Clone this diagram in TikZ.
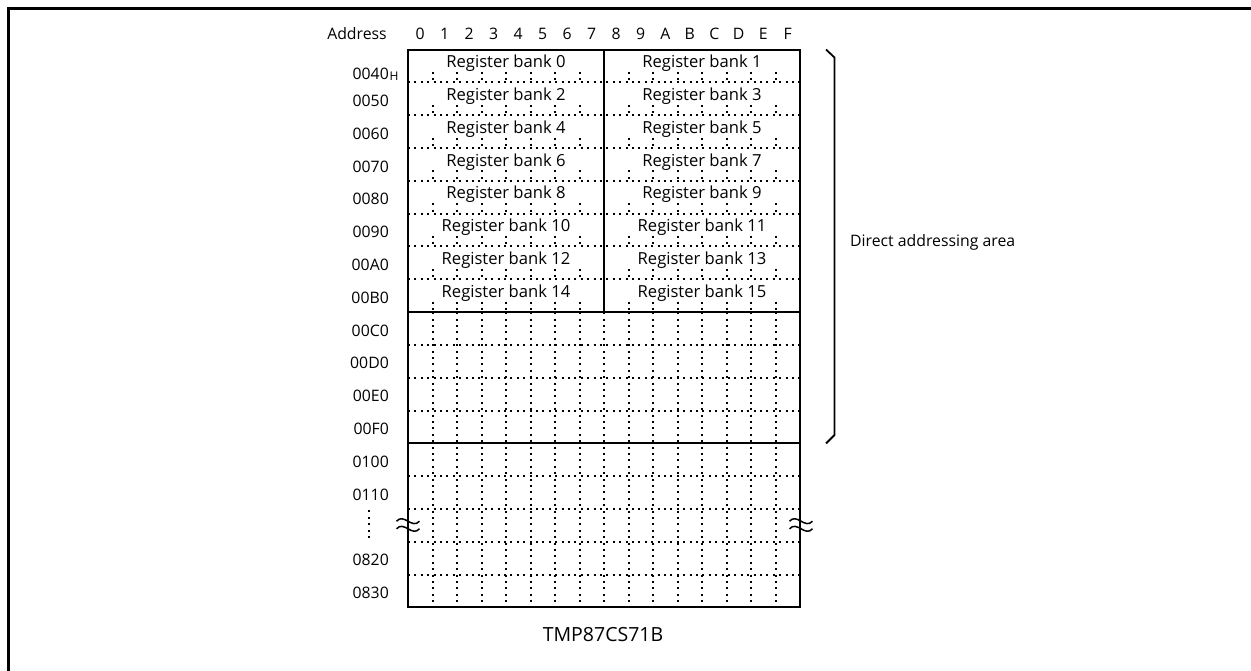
\documentclass[tikz,border=0pt]{standalone}
\usepackage{fontspec}
\setmainfont{Open Sans}
\usetikzlibrary{positioning}

\begin{document}
\begin{tikzpicture}[x=1pt, y=-1pt, font=\fontsize{15.8}{18}\selectfont,
  lbl/.style={inner sep=0pt},
  banklbl/.style={inner sep=0pt, anchor=base, font=\fontsize{16.6}{19}\selectfont},
  boxline/.style={line width=1.8pt},
  dotline/.style={line width=2pt, dash pattern=on 2pt off 4.4pt},
  wavemark/.style={line width=1.5pt}]
  % Geometry: left edge, column width, top edge, row height
  \def\gx{408}
  \def\gw{24.5}
  \def\gy{49.7}
  \def\rh{32.8}

  \useasboundingbox (0,0) rectangle (1251,671);

  % Page frame (open to the right and bottom)
  \draw[line width=3pt] (8.5,671) -- (8.5,8.5) -- (1251,8.5);

  % Column header
  \node[lbl, anchor=base] (addr) at (357,40) {Address};
  \foreach \c [count=\i from 0] in {0,1,2,3,4,5,6,7,8,9,A,B,C,D,E,F}
    \node[lbl, anchor=base] (col\c) at (\gx+\i*\gw+\gw/2, 40) {\c};

  % Row addresses
  \node[lbl, anchor=base east] (r0) at (389, \gy+29.5) {0040};
  \node[lbl, right=0.5pt of r0.base east, anchor=base west, yshift=-1pt,
        font=\fontsize{12}{13}\selectfont] (rH) {H};
  \foreach \r/\lab in {1/0050,2/0060,3/0070,4/0080,5/0090,6/00A0,7/00B0,
                       8/00C0,9/00D0,10/00E0,11/00F0,12/0100,13/0110,
                       15/0820,16/0830}
    \node[lbl, anchor=base east] (r\r) at (389, \gy+\r*\rh+24) {\lab};
  \draw[dotline] (369,\gy+14*\rh+1.5) -- (369,\gy+15*\rh);

  % Register banks 0..15 (two per row)
  \foreach \k in {0,...,7} {
    \pgfmathtruncatemacro{\ba}{2*\k}
    \pgfmathtruncatemacro{\bb}{2*\k+1}
    \node[banklbl] (bank\ba) at (\gx+4*\gw, \gy+\k*\rh+18) {Register bank \ba};
    \node[banklbl] (bank\bb) at (\gx+12*\gw, \gy+\k*\rh+18) {Register bank \bb};
    % short ticks under the text
    \foreach \c in {1,...,7,9,10,...,15}
      \draw[dotline] (\gx+\c*\gw, \gy+\k*\rh+\rh-10.5) -- (\gx+\c*\gw, \gy+\k*\rh+\rh);
  }
  \foreach \r in {1,...,7}
    \draw[dotline] (\gx, \gy+\r*\rh) -- (\gx+16*\gw, \gy+\r*\rh);

  % Lower area: full dotted grid
  \foreach \r in {9,10,11,13,14,15,16}
    \draw[dotline] (\gx, \gy+\r*\rh) -- (\gx+16*\gw, \gy+\r*\rh);
  \foreach \c in {1,...,15}
    \draw[dotline] (\gx+\c*\gw, \gy+8*\rh) -- (\gx+\c*\gw, \gy+17*\rh);

  % Solid lines
  \draw[boxline] (\gx,\gy) rectangle (\gx+16*\gw, \gy+17*\rh);
  \draw[boxline] (\gx+8*\gw, \gy) -- (\gx+8*\gw, \gy+8*\rh);
  \draw[boxline] (\gx, \gy+8*\rh) -- (\gx+16*\gw, \gy+8*\rh);
  \draw[boxline] (\gx, \gy+12*\rh) -- (\gx+16*\gw, \gy+12*\rh);

  % Break marks on both edges
  \foreach \bx in {\gx, \gx+16*\gw+1} {
    \foreach \dy in {-3.8,3.8} {
      \draw[wavemark] (\bx-11.5, 525+\dy) .. controls (\bx-4, 525+\dy-8.5)
        and (\bx+4, 525+\dy+8.5) .. (\bx+11.5, 525+\dy);
    }
  }

  % Bracket for the direct addressing area
  \draw[boxline] (826,49.5) -- (834.5,57.5) -- (834.5,435) -- (826,443.5);
  \node[lbl, anchor=west] (area) at (850,242) {Direct addressing area};

  % Device name
  \node[lbl, font=\fontsize{19.5}{22}\selectfont] (chip) at (603,635) {TMP87CS71B};

\end{tikzpicture}
\end{document}
